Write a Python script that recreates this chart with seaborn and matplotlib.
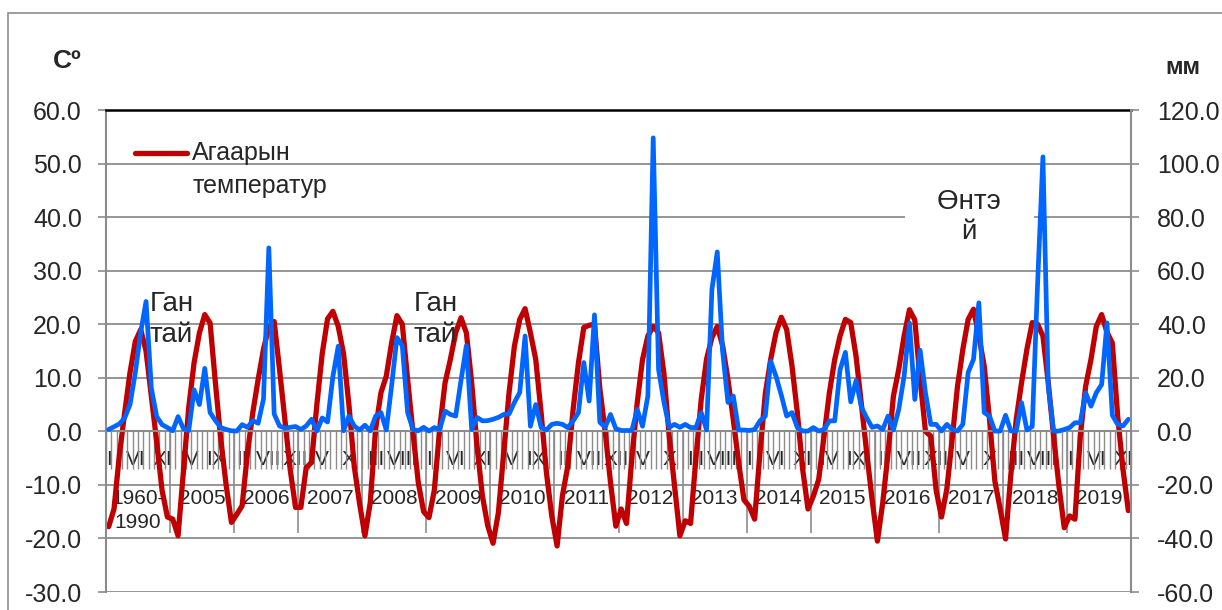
import numpy as np
import pandas as pd
import seaborn as sns
import matplotlib.pyplot as plt
from matplotlib.patches import Rectangle
from matplotlib.ticker import FormatStrFormatter, MultipleLocator, NullFormatter

# Сарууд (ромын тоогоор) ба оны шошго
sar = ["I", "II", "III", "IV", "V", "VI", "VII", "VIII", "IX", "X", "XI", "XII"]
onuud = ["1960-\n1990"] + [str(y) for y in range(2005, 2020)]

# Агаарын температур, C° (1960-1990 олон жилийн дундаж, дараа нь 2005-2019 он сараар)
temperatur = [
    -17.8, -14.5, -4.5, 3.5, 11.0, 16.8, 19.0, 15.0, 6.5, -2.0, -11.0, -16.0,   # 1960-1990
    -16.4, -19.5, -7.5, 4.5, 12.8, 18.4, 21.8, 20.2, 9.0, -1.5, -10.0, -17.0,   # 2005
    -15.5, -13.9, -4.0, 3.5, 9.7, 15.3, 19.5, 20.5, 11.6, 2.2, -7.1, -14.2,     # 2006
    -14.2, -6.8, -5.8, 5.0, 14.5, 21.0, 22.4, 19.6, 14.5, 5.0, -6.5, -13.5,     # 2007
    -19.5, -13.3, 0.4, 7.2, 10.3, 16.5, 21.6, 20.0, 9.7, -0.2, -9.6, -15.0,     # 2008
    -16.1, -11.0, 0.4, 9.0, 13.4, 18.4, 21.2, 18.4, 9.1, -2.7, -12.0, -17.6,    # 2009
    -20.9, -15.2, -4.0, 7.2, 15.9, 20.9, 22.9, 18.4, 13.4, 3.5, -7.7, -15.8,    # 2010
    -21.4, -12.0, -6.5, 4.1, 12.8, 19.4, 19.8, 20.0, 8.0, 0.0, -9.5, -17.7,     # 2011
    -14.5, -17.2, -5.0, 5.3, 13.4, 17.8, 19.6, 18.4, 10.9, -0.9, -10.2, -19.5,  # 2012
    -16.7, -17.2, -5.0, 6.0, 13.5, 17.5, 19.6, 16.0, 9.7, 2.2, -5.8, -12.8,     # 2013
    -14.0, -16.4, -4.0, 7.0, 13.4, 18.4, 21.3, 19.0, 12.2, 3.5, -7.1, -14.5,    # 2014
    -12.1, -9.0, -0.9, 7.2, 13.4, 17.8, 20.9, 20.3, 14.0, 5.0, -4.0, -12.7,     # 2015
    -20.5, -13.3, -4.0, 6.6, 11.6, 17.8, 22.7, 20.8, 9.7, 0.0, -0.9, -11.0,     # 2016
    -16.0, -10.8, -1.5, 8.4, 15.3, 20.9, 22.8, 17.8, 12.2, 2.2, -9.3, -14.5,    # 2017
    -20.1, -8.0, 2.2, 9.1, 15.3, 20.3, 20.0, 17.8, 9.1, -0.9, -10.2, -18.0,     # 2018
    -15.8, -16.4, -0.9, 8.4, 13.4, 19.6, 21.8, 18.5, 16.5, 2.9, -7.1, -14.8,    # 2019
]

# Хур тунадас, мм
tunadas = [
    0.7, 1.7, 2.8, 5.0, 10.0, 22.0, 37.0, 48.5, 16.0, 5.5, 2.5, 1.4,      # 1960-1990
    0.2, 5.5, 1.0, 0.3, 15.5, 10.0, 23.5, 7.0, 4.0, 1.4, 0.7, 0.2,        # 2005
    0.1, 2.5, 1.5, 4.0, 3.0, 12.0, 68.5, 6.5, 2.0, 1.2, 1.5, 1.8,         # 2006
    0.7, 2.0, 4.5, 0.1, 5.0, 3.5, 20.5, 31.8, 0.2, 5.7, 2.0, 0.5,         # 2007
    2.3, 0.2, 5.7, 7.0, 0.5, 17.0, 35.0, 32.0, 7.0, 0.7, 0.2, 1.5,        # 2008
    0.1, 1.4, 0.7, 7.6, 6.3, 5.7, 19.0, 32.0, 0.7, 5.2, 3.9, 4.0,         # 2009
    4.5, 5.2, 6.3, 6.5, 10.8, 14.5, 35.6, 1.9, 10.0, 1.5, 0.5, 2.6,       # 2010
    3.0, 2.6, 1.4, 3.9, 7.0, 25.7, 11.3, 43.5, 3.4, 1.5, 6.3, 1.0,        # 2011
    0.3, 0.3, 0.3, 8.2, 1.9, 13.2, 109.6, 23.1, 11.0, 1.5, 2.6, 1.5,      # 2012
    2.6, 1.4, 1.4, 7.0, 0.5, 53.0, 67.0, 30.0, 10.8, 13.2, 0.5, 0.5,      # 2013
    0.3, 0.7, 3.9, 5.7, 26.2, 20.6, 13.5, 5.7, 7.0, 1.4, 0.1, 0.1,        # 2014
    1.4, 0.1, 0.7, 3.9, 3.9, 23.0, 29.5, 11.0, 19.0, 9.0, 5.0, 1.5,       # 2015
    2.0, 0.7, 5.7, 0.5, 8.2, 20.6, 40.5, 11.9, 30.3, 14.4, 2.6, 2.6,      # 2016
    0.1, 2.6, 0.7, 0.1, 2.6, 22.0, 26.9, 48.0, 7.0, 5.7, 0.1, 0.1,        # 2017
    6.0, 0.1, 0.1, 10.7, 0.5, 1.8, 55.0, 102.5, 16.9, 0.1, 0.1, 0.7,      # 2018
    1.4, 3.2, 3.2, 14.4, 9.4, 14.4, 17.5, 40.5, 6.0, 2.6, 2.0, 4.5,       # 2019
]

n = len(temperatur)
tabela = pd.DataFrame({"sar": np.arange(n), "temperatur": temperatur, "tunadas": tunadas})

sns.set_style("white")
plt.rcParams["font.family"] = ["Liberation Sans", "DejaVu Sans"]

saaral = "#8c8c8c"

fig = plt.figure(figsize=(12.22, 6.10), dpi=100)
ax = fig.add_axes([106 / 1222, 18 / 610, 1025 / 1222, 482 / 610])
ax2 = ax.twinx()

sns.lineplot(data=tabela, x="sar", y="temperatur", ax=ax, color="#C00000", linewidth=3.8,
             label="Агаарын\nтемператур", solid_joinstyle="round", solid_capstyle="round")
sns.lineplot(data=tabela, x="sar", y="tunadas", ax=ax2, color="#0066FF", linewidth=3.4,
             legend=False, solid_joinstyle="round", solid_capstyle="round")

ax.set_xlim(-0.5, n - 0.5)
ax.set_ylim(-30, 60)
ax2.set_ylim(-60, 120)
ax.set_xlabel("")
ax.set_ylabel("")
ax2.set_ylabel("")

# y тэнхлэгүүд
ax.yaxis.set_major_locator(MultipleLocator(10))
ax.yaxis.set_major_formatter(FormatStrFormatter("%.1f"))
ax2.yaxis.set_major_locator(MultipleLocator(20))
ax2.yaxis.set_major_formatter(FormatStrFormatter("%.1f"))
ax.grid(axis="y", color=saaral, linewidth=1.3)
ax.grid(axis="x", visible=False)
ax.set_axisbelow(True)

ax.tick_params(axis="y", left=True, length=5.8, width=1.2, color=saaral, pad=11.5, labelsize=18)
ax2.tick_params(axis="y", right=True, length=5.8, width=1.2, color=saaral, pad=13, labelsize=18)

# хүрээ
ax.spines["bottom"].set_position(("data", 0))
ax.spines["bottom"].set_color(saaral)
ax.spines["bottom"].set_linewidth(1.5)
ax.spines["left"].set_color(saaral)
ax.spines["left"].set_linewidth(1.5)
ax.spines["right"].set_visible(False)
ax.spines["top"].set_color("black")
ax.spines["top"].set_linewidth(1.8)
for s in ["top", "left", "bottom"]:
    ax2.spines[s].set_visible(False)
ax2.spines["right"].set_color(saaral)
ax2.spines["right"].set_linewidth(1.5)

# сарын шошго (5 сар тутам)
bairlal = list(range(0, n, 5))
ax.set_xticks(bairlal, labels=[sar[i % 12] for i in bairlal])
ax.set_xticks(np.arange(n + 1) - 0.5, minor=True)
ax.tick_params(axis="x", which="major", bottom=True, length=0, pad=13.5, labelsize=15)
ax.tick_params(axis="x", which="minor", bottom=True, length=27.4, width=1.0, color=saaral,
               direction="out")

# оны шошго
sec = ax.secondary_xaxis(1 / 3)
sec.spines[["top", "bottom"]].set_visible(False)
sec.set_xticks(np.arange(0, n + 1, 12) - 0.5)
sec.xaxis.set_major_formatter(NullFormatter())
sec.set_xticks(np.arange(len(onuud)) * 12 + 5.5, labels=onuud, minor=True)
sec.tick_params(which="major", bottom=True, length=73.5, width=1.2, color=saaral)
sec.tick_params(which="minor", bottom=True, length=0, pad=41.8, labelsize=15)
for t in sec.get_xticklabels(minor=True):
    t.set_linespacing(1.3)

# тайлбар
leg = ax.legend(loc="upper left", bbox_to_anchor=(0.028, 0.935), frameon=False, fontsize=18,
                handlelength=2.1, handletextpad=0.2, borderpad=0, borderaxespad=0)
for t in leg.get_texts():
    t.set_linespacing(1.43)
for ln in leg.get_lines():
    ln.set_ydata(np.asarray(ln.get_ydata()) + 12)

# тэмдэглэгээ
ax.text(7.7, 20.9, "Ган\nтай", fontsize=20, ha="left", va="center", linespacing=1.25)
ax.text(57.1, 20.9, "Ган\nтай", fontsize=20, ha="left", va="center", linespacing=1.25)
ax2.text(161.2, 80.2, "    Өнтэ    \n    й    ", fontsize=20, ha="center", va="center",
         linespacing=1.2, multialignment="center", zorder=5,
         bbox=dict(facecolor="white", edgecolor="none", pad=1))

fig.text(67 / 1222, 1 - 61 / 610, "Cº", fontsize=19, fontweight="bold", ha="center", va="center")
fig.text(1183 / 1222, 1 - 67 / 610, "мм", fontsize=17, fontweight="bold", ha="center", va="center")

# гадна хүрээ
fig.patches.append(Rectangle((8 / 1222, -0.1), 1.1, 1.1 - 13 / 610, transform=fig.transFigure,
                             fill=False, edgecolor=saaral, linewidth=1.2))

plt.savefig("out.png", dpi=100)
